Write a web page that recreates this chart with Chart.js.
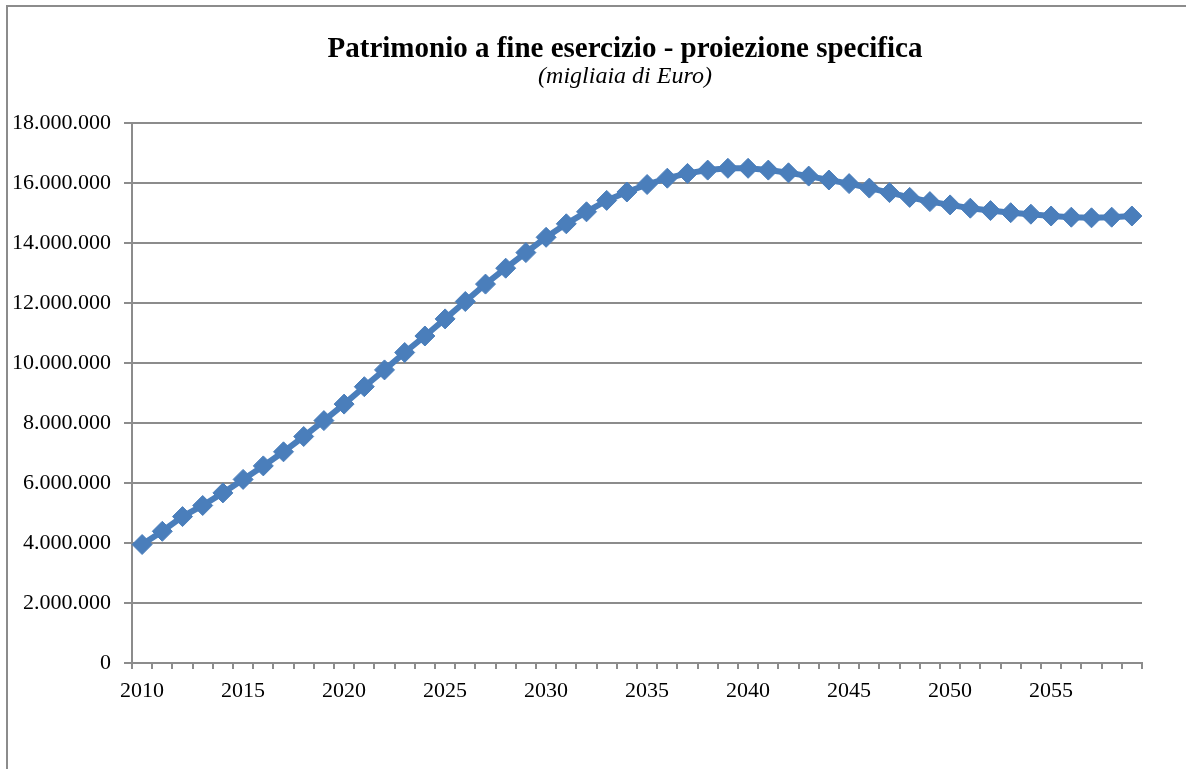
<!DOCTYPE html>
<html>
<head>
<meta charset="utf-8">
<script src="https://cdn.jsdelivr.net/npm/chart.js@4"></script>
<style>
  html, body { margin: 0; padding: 0; background: #fff; overflow: hidden; }
  #frame {
    position: absolute; left: 6px; top: 5px;
    width: 1234px; height: 790px;
    border: 2px solid #8c8c8c;
  }
  #patrimonioChart { display: block; }
</style>
</head>
<body>
<div id="frame">
  <canvas id="patrimonioChart" width="1234" height="762"></canvas>
</div>
<script>
  "use strict";

  // Years (x categories)
  var years = [
    "2010", "2011", "2012", "2013", "2014", "2015", "2016", "2017", "2018", "2019",
    "2020", "2021", "2022", "2023", "2024", "2025", "2026", "2027", "2028", "2029",
    "2030", "2031", "2032", "2033", "2034", "2035", "2036", "2037", "2038", "2039",
    "2040", "2041", "2042", "2043", "2044", "2045", "2046", "2047", "2048", "2049",
    "2050", "2051", "2052", "2053", "2054", "2055", "2056", "2057", "2058", "2059"
  ];

  // Patrimonio a fine esercizio (migliaia di Euro)
  var patrimonio = [
    3950000, 4390000, 4880000, 5250000, 5670000, 6120000, 6570000, 7040000, 7550000, 8080000,
    8630000, 9210000, 9770000, 10350000, 10900000, 11470000, 12050000, 12630000, 13160000, 13680000,
    14190000, 14640000, 15040000, 15420000, 15700000, 15950000, 16160000, 16320000, 16430000, 16490000,
    16490000, 16430000, 16340000, 16230000, 16100000, 15980000, 15830000, 15680000, 15520000, 15380000,
    15270000, 15160000, 15080000, 15010000, 14960000, 14900000, 14860000, 14840000, 14860000, 14900000
  ];

  var yMin = 0;
  var yMax = 18000000;
  var yStep = 2000000;

  var titleText = "Patrimonio a fine esercizio - proiezione specifica";
  var subtitleText = "(migliaia di Euro)";

  var SERIF = "'Liberation Serif', 'DejaVu Serif', serif";
  var BLUE = "#4a7ebb";
  var GRID = "#8c8c8c";

  // 18000000 -> "18.000.000"
  function formatIt(v) {
    return String(Math.round(v)).replace(/\B(?=(\d{3})+(?!\d))/g, ".");
  }

  var ctx = document.getElementById("patrimonioChart").getContext("2d");

  new Chart(ctx, {
    type: "line",
    data: {
      labels: years,
      datasets: [
        {
          data: patrimonio,
          borderColor: BLUE,
          borderWidth: 6,
          backgroundColor: BLUE,
          fill: false,
          tension: 0,
          pointStyle: "rectRot",
          pointRadius: 10,
          pointBorderWidth: 1,
          pointBackgroundColor: BLUE,
          pointBorderColor: BLUE,
        },
      ],
    },
    options: {
      responsive: false,
      animation: false,
      layout: {
        padding: { left: 0, right: 0, top: 0, bottom: 66 },
      },
      plugins: {
        legend: { display: false },
        tooltip: { enabled: false },
        title: {
          display: true,
          text: titleText,
          color: "#000",
          font: { family: SERIF, weight: "bold", size: 29, lineHeight: 1 },
          padding: { top: 28, bottom: 0 },
        },
        subtitle: {
          display: true,
          text: subtitleText,
          color: "#000",
          font: { family: SERIF, style: "italic", size: 24, lineHeight: 1 },
          padding: { top: 1, bottom: 34 },
        },
      },
      scales: {
        x: {
          type: "category",
          offset: true,
          grid: {
            offset: true,
            drawOnChartArea: false,
            drawTicks: true,
            tickLength: 6,
            color: GRID,
            lineWidth: 2,
          },
          border: { display: true, color: GRID, width: 2 },
          ticks: {
            autoSkip: false,
            maxRotation: 0,
            padding: 9,
            color: "#000",
            font: { family: SERIF, size: 22 },
            callback: function (value, index) {
              var y = years[index];
              return Number(y) % 5 === 0 ? y : "";
            },
          },
          afterFit: function (scale) {
            scale.height = 40;
          },
        },
        y: {
          min: yMin,
          max: yMax,
          grid: {
            color: GRID,
            lineWidth: 2,
            drawTicks: true,
            tickLength: 8,
          },
          border: { display: true, color: GRID, width: 2 },
          ticks: {
            stepSize: yStep,
            padding: 13,
            color: "#000",
            font: { family: SERIF, size: 22 },
            callback: function (value) {
              return formatIt(value);
            },
          },
          afterFit: function (scale) {
            scale.width = 124;
          },
        },
        // empty right-hand box: leaves blank space right of the plot so the
        // title stays centred over the whole frame, as in the original
        yRight: {
          type: "linear",
          position: "right",
          grid: { display: false },
          border: { display: false },
          ticks: { display: false },
          afterFit: function (scale) {
            scale.width = 100;
          },
        },
      },
    },
  });
</script>
</body>
</html>
